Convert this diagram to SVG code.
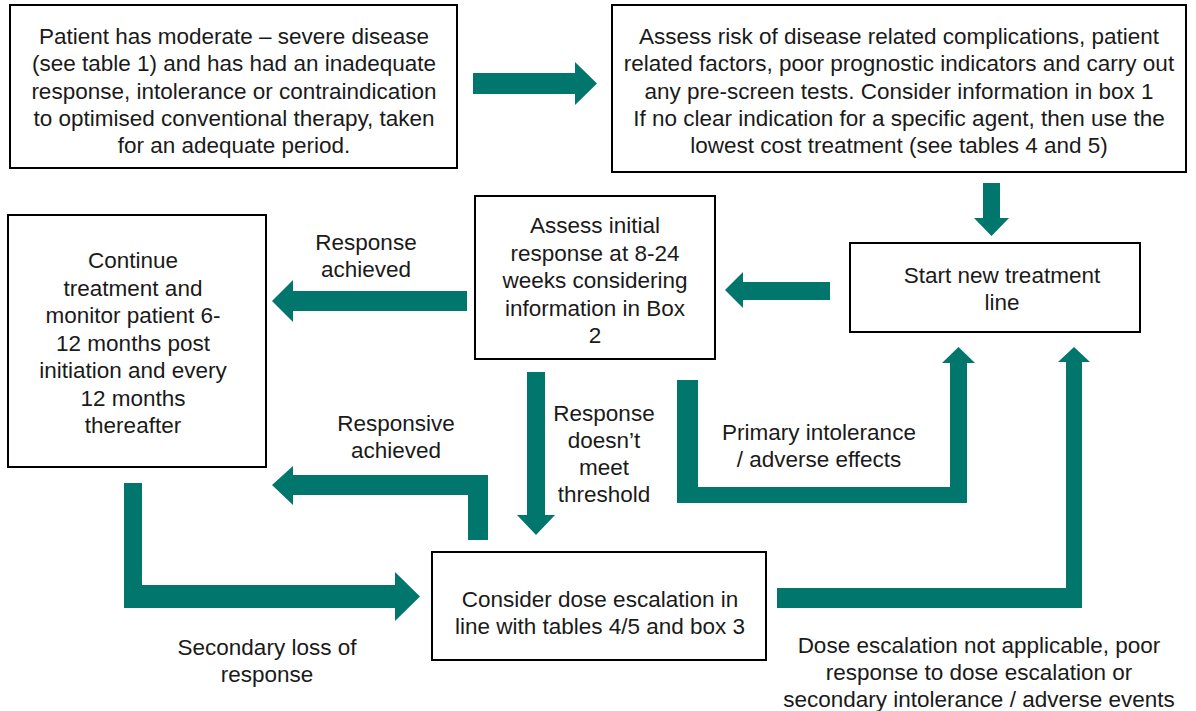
<svg xmlns="http://www.w3.org/2000/svg" width="1196" height="711" viewBox="0 0 1196 711">
<style>
.box{fill:#fff;stroke:#000;stroke-width:2}
.t{font-family:"Liberation Sans",Arial,sans-serif;font-size:22.5px;fill:#1a1a1a;text-anchor:middle}
.arr{fill:#00766c;stroke:none}
</style>
<rect width="1196" height="711" fill="#fff"/>
<g id="connectors">
<polygon class="arr" points="473,73 575,73 575,62 597,83.5 575,105 575,94 473,94"/>
<polygon class="arr" points="983,183 1000,183 1000,218 1009,218 991.5,236 974,218 983,218"/>
<polygon class="arr" points="830,282 743,282 743,272 725,290 743,308 743,300 830,300"/>
<polygon class="arr" points="467,291 293,291 293,280 272,301 293,322 293,311 467,311"/>
<polygon class="arr" points="527,372 545,372 545,515 555,515 536,535 517,515 527,515"/>
<polygon class="arr" points="677,380 698,380 698,487 950,487 950,363 942,363 958.5,347 975,363 967,363 967,503 677,503"/>
<polygon class="arr" points="777,588 1066,588 1066,362 1058,362 1074,347 1090,362 1082,362 1082,608 777,608"/>
<polygon class="arr" points="124,483 142,483 142,585 395,585 395,572 420,596.5 395,621 395,608 124,608"/>
<polygon class="arr" points="488,540 468,540 468,495 293,495 293,505 272,485 293,466 293,475 488,475"/>
</g>
<g id="lbl-response-achieved"><text class="t" x="366" y="250">Response<tspan x="366" dy="27">achieved</tspan></text></g>
<g id="lbl-responsive-achieved"><text class="t" x="396" y="431">Responsive<tspan x="396" dy="27">achieved</tspan></text></g>
<g id="lbl-threshold"><text class="t" x="604" y="421">Response<tspan x="604" dy="27">doesn’t</tspan><tspan x="604" dy="27">meet</tspan><tspan x="604" dy="27">threshold</tspan></text></g>
<g id="lbl-primary"><text class="t" x="819" y="440">Primary intolerance<tspan x="819" dy="27">/ adverse effects</tspan></text></g>
<g id="lbl-secondary"><text class="t" x="267" y="655">Secondary loss of<tspan x="267" dy="27">response</tspan></text></g>
<g id="lbl-dose-na"><text class="t" x="979" y="653">Dose escalation not applicable, poor<tspan x="979" dy="27">response to dose escalation or</tspan><tspan x="979" dy="27">secondary intolerance / adverse events</tspan></text></g>
<g id="n-patient">
<rect class="box" x="10" y="5" width="447" height="163"/>
<text class="t" x="234" y="44">Patient has moderate – severe disease<tspan x="234" dy="27.3">(see table 1) and has had an inadequate</tspan><tspan x="234" dy="27.3">response, intolerance or contraindication</tspan><tspan x="234" dy="27.3">to optimised conventional therapy, taken</tspan><tspan x="234" dy="27.3">for an adequate period.</tspan></text>
</g>
<g id="n-assess-risk">
<rect class="box" x="612" y="5" width="574" height="167"/>
<text class="t" x="899" y="44">Assess risk of disease related complications, patient<tspan x="899" dy="27.3">related factors, poor prognostic indicators and carry out</tspan><tspan x="899" dy="27.3">any pre-screen tests. Consider information in box 1</tspan><tspan x="899" dy="27.3">If no clear indication for a specific agent, then use the</tspan><tspan x="899" dy="27.3">lowest cost treatment (see tables 4 and 5)</tspan></text>
</g>
<g id="n-start">
<rect class="box" x="850" y="243" width="290" height="89"/>
<text class="t" x="1002" y="283">Start new treatment<tspan x="1002" dy="27">line</tspan></text>
</g>
<g id="n-assess-initial">
<rect class="box" x="475" y="196" width="240" height="163"/>
<text class="t" x="595" y="233">Assess initial<tspan x="595" dy="27.5">response at 8-24</tspan><tspan x="595" dy="27.5">weeks considering</tspan><tspan x="595" dy="27.5">information in Box</tspan><tspan x="595" dy="27.5">2</tspan></text>
</g>
<g id="n-continue">
<rect class="box" x="8" y="215" width="258" height="252"/>
<text class="t" x="133" y="268">Continue<tspan x="133" dy="27.5">treatment and</tspan><tspan x="133" dy="27.5">monitor patient 6-</tspan><tspan x="133" dy="27.5">12 months post</tspan><tspan x="133" dy="27.5">initiation and every</tspan><tspan x="133" dy="27.5">12 months</tspan><tspan x="133" dy="27.5">thereafter</tspan></text>
</g>
<g id="n-dose">
<rect class="box" x="432" y="552" width="334" height="108"/>
<text class="t" x="600" y="607">Consider dose escalation in<tspan x="600" dy="27">line with tables 4/5 and box 3</tspan></text>
</g>
</svg>
